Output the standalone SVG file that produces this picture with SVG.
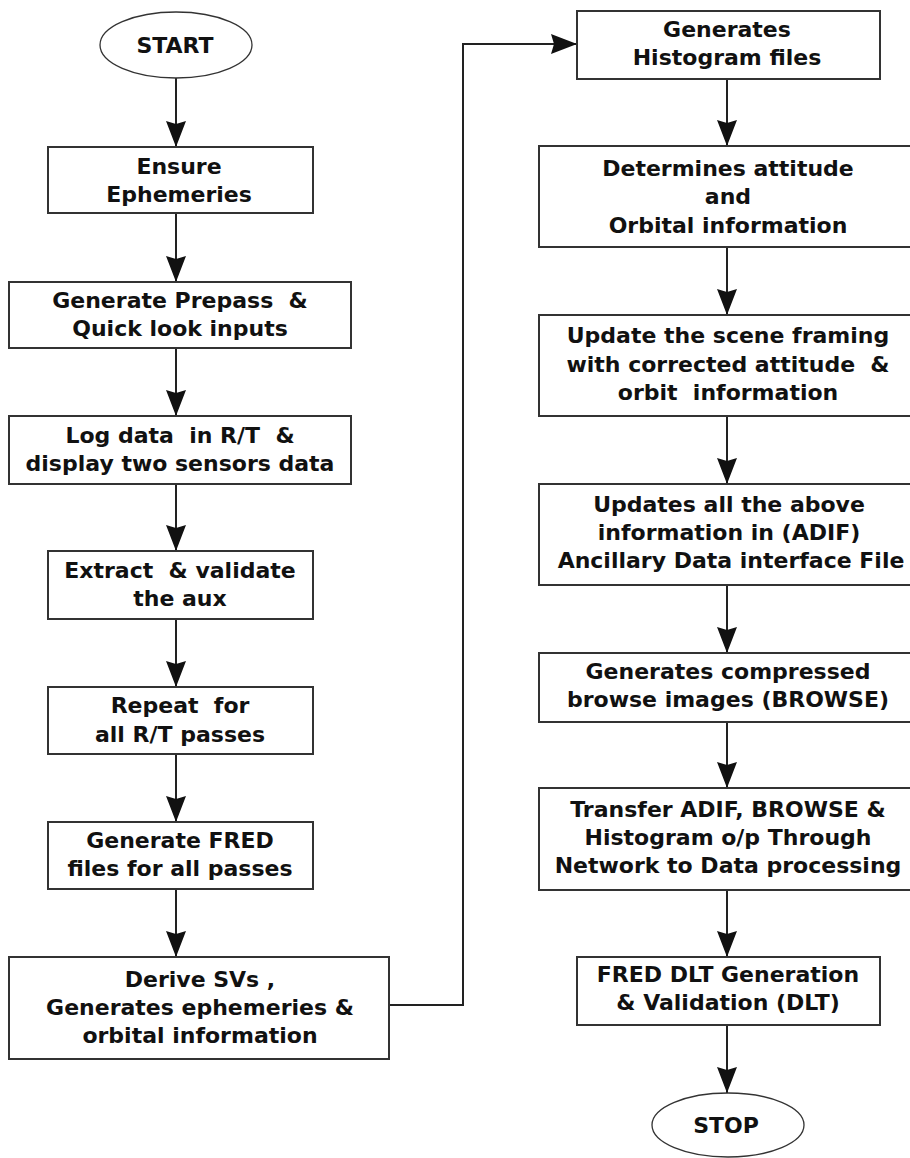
<svg xmlns="http://www.w3.org/2000/svg" width="910" height="1158" viewBox="0 0 910 1158">
  <style>
    .box { fill: #ffffff; stroke: #333333; stroke-width: 2; }
    .term { fill: #ffffff; stroke: #333333; stroke-width: 1.3; }
    .lbl { font-family: "DejaVu Sans", "Liberation Sans", sans-serif; font-weight: bold; font-size: 22px; fill: #111111; text-anchor: middle; white-space: pre; }
    .flow { fill: none; stroke: #222222; stroke-width: 2; }
  </style>
  <defs>
    <marker id="arr" markerUnits="userSpaceOnUse" markerWidth="28" markerHeight="22" refX="26" refY="10" orient="auto">
      <path d="M0,0 L26,10 L0,20 L3,10 Z" fill="#111111"/>
    </marker>
  </defs>
  <rect width="910" height="1158" fill="#ffffff"/>

  <!-- connectors -->
  <g id="connectors">
    <line class="flow" x1="176" y1="78" x2="176" y2="147" marker-end="url(#arr)"/>
    <line class="flow" x1="176" y1="213" x2="176" y2="282" marker-end="url(#arr)"/>
    <line class="flow" x1="176" y1="348" x2="176" y2="416" marker-end="url(#arr)"/>
    <line class="flow" x1="176" y1="484" x2="176" y2="551" marker-end="url(#arr)"/>
    <line class="flow" x1="176" y1="619" x2="176" y2="687" marker-end="url(#arr)"/>
    <line class="flow" x1="176" y1="754" x2="176" y2="822" marker-end="url(#arr)"/>
    <line class="flow" x1="176" y1="889" x2="176" y2="957" marker-end="url(#arr)"/>
    <polyline class="flow" points="389,1005 463,1005 463,44 577,44" marker-end="url(#arr)"/>
    <line class="flow" x1="727" y1="79" x2="727" y2="146" marker-end="url(#arr)"/>
    <line class="flow" x1="727" y1="247" x2="727" y2="315" marker-end="url(#arr)"/>
    <line class="flow" x1="727" y1="416" x2="727" y2="484" marker-end="url(#arr)"/>
    <line class="flow" x1="727" y1="585" x2="727" y2="653" marker-end="url(#arr)"/>
    <line class="flow" x1="727" y1="722" x2="727" y2="788" marker-end="url(#arr)"/>
    <line class="flow" x1="727" y1="890" x2="727" y2="957" marker-end="url(#arr)"/>
    <line class="flow" x1="727" y1="1025" x2="727" y2="1093" marker-end="url(#arr)"/>
  </g>

  <!-- left column -->
  <g id="start">
    <ellipse class="term" cx="176" cy="45" rx="76" ry="33"/>
    <text class="lbl" x="175" y="53">START</text>
  </g>
  <g id="ensure">
    <rect class="box" x="48" y="147" width="265" height="66"/>
    <text class="lbl" x="179" y="174">Ensure</text>
    <text class="lbl" x="179" y="202">Ephemeries</text>
  </g>
  <g id="prepass">
    <rect class="box" x="9" y="282" width="342" height="66"/>
    <text class="lbl" x="180" y="308">Generate Prepass  &amp;</text>
    <text class="lbl" x="180" y="336">Quick look inputs</text>
  </g>
  <g id="logdata">
    <rect class="box" x="9" y="416" width="342" height="68"/>
    <text class="lbl" x="180" y="443">Log data  in R/T  &amp;</text>
    <text class="lbl" x="180" y="471">display two sensors data</text>
  </g>
  <g id="extract">
    <rect class="box" x="48" y="551" width="265" height="68"/>
    <text class="lbl" x="180" y="578">Extract  &amp; validate</text>
    <text class="lbl" x="180" y="606">the aux</text>
  </g>
  <g id="repeat">
    <rect class="box" x="48" y="687" width="265" height="67"/>
    <text class="lbl" x="180" y="713">Repeat  for</text>
    <text class="lbl" x="180" y="742">all R/T passes</text>
  </g>
  <g id="fred">
    <rect class="box" x="48" y="822" width="265" height="67"/>
    <text class="lbl" x="180" y="848">Generate FRED</text>
    <text class="lbl" x="180" y="876">files for all passes</text>
  </g>
  <g id="derive">
    <rect class="box" x="9" y="957" width="380" height="102"/>
    <text class="lbl" x="200" y="987">Derive SVs ,</text>
    <text class="lbl" x="200" y="1015">Generates ephemeries &amp;</text>
    <text class="lbl" x="200" y="1043">orbital information</text>
  </g>

  <!-- right column -->
  <g id="histogram">
    <rect class="box" x="577" y="11" width="303" height="68"/>
    <text class="lbl" x="727" y="37">Generates</text>
    <text class="lbl" x="727" y="65">Histogram files</text>
  </g>
  <g id="attitude">
    <rect class="box" x="539" y="146" width="380" height="101"/>
    <text class="lbl" x="728" y="176">Determines attitude</text>
    <text class="lbl" x="728" y="204">and</text>
    <text class="lbl" x="728" y="233">Orbital information</text>
  </g>
  <g id="framing">
    <rect class="box" x="539" y="315" width="380" height="101"/>
    <text class="lbl" x="728" y="343">Update the scene framing</text>
    <text class="lbl" x="728" y="372">with corrected attitude  &amp;</text>
    <text class="lbl" x="728" y="400">orbit  information</text>
  </g>
  <g id="adif">
    <rect class="box" x="539" y="484" width="380" height="101"/>
    <text class="lbl" x="729" y="512">Updates all the above</text>
    <text class="lbl" x="729" y="540">information in (ADIF)</text>
    <text class="lbl" x="731" y="568">Ancillary Data interface File</text>
  </g>
  <g id="browse">
    <rect class="box" x="539" y="653" width="380" height="69"/>
    <text class="lbl" x="728" y="679">Generates compressed</text>
    <text class="lbl" x="728" y="707">browse images (BROWSE)</text>
  </g>
  <g id="transfer">
    <rect class="box" x="539" y="788" width="380" height="102"/>
    <text class="lbl" x="728" y="817">Transfer ADIF, BROWSE &amp;</text>
    <text class="lbl" x="728" y="845">Histogram o/p Through</text>
    <text class="lbl" x="728" y="873">Network to Data processing</text>
  </g>
  <g id="dlt">
    <rect class="box" x="577" y="957" width="303" height="68"/>
    <text class="lbl" x="728" y="982">FRED DLT Generation</text>
    <text class="lbl" x="728" y="1010">&amp; Validation (DLT)</text>
  </g>
  <g id="stop">
    <ellipse class="term" cx="728" cy="1125" rx="76" ry="32"/>
    <text class="lbl" x="726" y="1133">STOP</text>
  </g>
</svg>
